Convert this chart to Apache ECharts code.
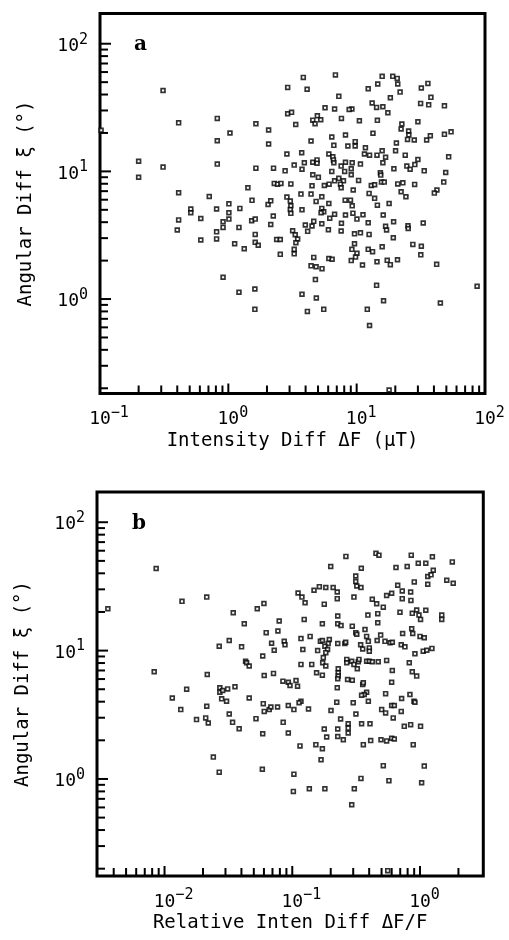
<!DOCTYPE html>
<html><head><meta charset="utf-8">
<script src="https://cdn.jsdelivr.net/npm/echarts@6/dist/echarts.min.js"></script>
<style>html,body{margin:0;padding:0;background:#fff}#c{width:509px;height:940px}</style>
</head><body><div id="c"></div>
<script>
// Panel a: intensity difference ΔF (μT) vs angular difference ξ (°)
const intensityDiffA = [0.31,0.41,0.82,1.03,0.82,1.64,2.06,2.9,2.9,3.11,3.35,2.06,3.84,6.83,4.11,7.26,15.8,19.1,20.7,20.9,14.6,12.3,21.8,18.3,31.9,35.9,37.9,13.2,14.3,16.0,17.5,31.5,36.4,48.3,5.67,6.73,9.18,8.74,4.94,4.55,5.25,4.74,7.61,10.5,14.5,22.5,22.2,30.0,25.4,25.5,13.4,8.18,6.4,4.41,9.74,24.9,28.1,20.4,35.1,37.5,48.3,54.4,6.64,8.54,9.74,11.7,15.8,3.73,6.07,6.52,11.5,12.6,14.4,16.8,20.1,23.9,52.1,30.0,3.26,3.91,4.55,4.91,4.91,6.59,6.64,7.57,8.18,9.23,10.7,16.0,24.6,26.1,28.4,19.5,3.75,6.4,8.06,9.07,9.07,15.3,15.4,33.6,49.4,4.55,5.03,6.73,7.26,7.89,7.48,6.1,5.6,10.35,13.0,13.8,15.6,16.4,20.9,22.9,28.3,47.7,4.49,7.57,9.4,22.2,24.2,42.2,40.3,3.68,4.41,12.5,13.8,5.35,4.83,6.07,8.14,8.95,9.23,14.5,17.9,3.75,5.35,5.54,5.28,6.73,6.17,8.18,9.35,11.2,10.05,16.1,12.3,19.4,33.0,3.98,4.49,4.63,5.35,7.61,4.15,6.02,7.57,16.8,17.1,25.1,25.2,9.62,10.7,12.5,19.3,3.17,3.32,3.47,3.36,9.62,15.8,27.4,31.9,9.18,10.05,9.8,9.07,12.3,13.3,3.26,3.26,31.6,4.63,6.07,6.44,14.4,17.3,18.3,20.8,11.1,4.41,4.83,5.37,42.0,4.77,3.75,4.85,4.13,5.54,14.3,16.2,12.1,12.6,44.9,86.8,17.9,0.91,1.21,1.61,1.61,2.86,0.2,0.31,0.2,0.82,1.64,2.25,2.77,1.42,2.28,2.42,2.57,3.07,0.41,0.71,1.01,1.53,2.04,2.14,2.86,3.04,3.07,3.04,3.07,0.51,0.51,0.81,1.01,1.23,0.41,0.61,1.01,0.91,0.91,1.52,1.62,2.24,2.14,0.40,0.81,1.21,0.81,0.61,1.62,2.38,2.54,1.12,1.33,1.62,1.71,2.54,0.102];
const angularDiffA = [43,24,26,20,17.4,23.6,21.1,45.5,28.3,29,23.3,16.4,54.5,57,44,38.7,55.5,55.5,53.5,48.3,48.3,44.4,41.8,37.7,45,48.9,38,34.3,31.7,32.1,28.8,34.1,33.2,32.6,31.5,30.8,30.8,30.5,27.3,25.2,25.4,23.6,26,24.9,25.1,23.5,21.5,24.5,20.7,19.3,19.9,19.3,18.6,17.3,17.1,17.8,17.6,16.7,17.6,19,19.5,20.4,16,15.8,15.8,15.3,14.5,14,13.7,13,13.7,13.4,13.4,12.9,14.5,13.4,13,12.4,11.2,11.7,11.8,12.3,11.6,12.3,11.7,11,11.8,11.7,11.4,11.7,11,10.4,11.3,10.5,10.4,10,10,10.5,9.4,9.74,9.35,10.1,9.8,9.4,8.98,8.43,8.82,8.43,7.94,7.94,7.76,8.5,7.76,7.85,8.24,8.24,7.98,8.13,7.91,8.24,7.71,7.44,7.14,6.92,6.33,7.14,6.76,6.64,6.64,6.72,6.15,6.33,5.82,5.61,5.95,5.95,5.37,5.44,5.61,5.0,5.13,4.83,4.74,4.62,4.29,4.55,4.71,4.57,4.23,4.55,3.96,4.03,3.94,3.8,3.73,4.06,3.89,3.92,3.39,3.49,3.41,3.71,3.47,3.75,3.57,3.24,3.3,3.21,3.02,3.43,3.19,2.95,2.76,2.71,2.57,2.68,2.59,2.45,2.28,2.13,2.0,2.45,2.35,2.45,2.26,2.22,2.12,2.08,2.05,1.96,2.01,1.86,2.03,1.85,1.82,1.79,1.73,1.87,1.42,1.09,1.02,0.80,0.83,1.28,0.97,0.83,0.62,0.93,1.26,0.194,1.48,1.13,1.2,0.83,13.7,12,10.8,9.0,11.4,10.6,10.6,10.1,7.44,8.05,7.94,8.05,7.98,6.8,6.36,5.57,5.93,5.51,5.88,6.29,5.85,5.37,5.02,4.69,5.07,4.74,5.07,4.74,5.13,4.17,4.28,4.23,4.03,3.64,4.1,4.23,4.47,3.84,3.47,3.36,3.64,2.96,2.9,3.21,2.93,2.93,2.71,2.48,2.78,2.64,2.24,21];

// Panel b: relative intensity difference ΔF/F vs angular difference ξ (°)
const relIntenDiffB = [0.0086,0.0137,0.0214,0.0036,0.0345,0.0421,0.0532,0.060,0.079,0.111,0.119,0.126,0.124,0.148,0.163,0.183,0.209,0.225,0.225,0.178,0.172,0.20,0.263,0.227,0.227,0.241,0.295,0.347,0.314,0.314,0.32,0.345,0.304,0.423,0.458,0.391,0.467,0.467,0.516,0.452,0.477,0.548,0.60,0.649,0.669,0.794,0.854,0.969,1.11,1.25,0.726,0.726,0.845,0.849,0.902,0.697,0.87,0.942,0.982,1.11,1.01,1.15,1.27,1.22,1.15,1.62,1.82,1.79,1.48,1.48,0.861,0.371,0.0625,0.0772,0.314,0.32,0.731,0.877,1.0,1.08,0.0268,0.0321,0.0401,0.0689,0.0722,0.0865,0.0877,0.117,0.138,0.166,0.172,0.195,0.191,0.18,0.189,0.183,0.158,0.227,0.258,0.262,0.343,0.356,0.401,0.401,0.382,0.394,0.462,0.492,0.532,0.583,0.607,0.713,0.762,0.913,1.06,1.13,1.24,0.121,0.0431,0.0439,0.046,0.0587,0.0603,0.0713,0.0845,0.0931,0.096,0.107,0.110,0.117,0.142,0.155,0.172,0.175,0.173,0.183,0.229,0.229,0.229,0.227,0.225,0.267,0.267,0.292,0.304,0.329,0.333,0.271,0.295,0.323,0.356,0.36,0.382,0.401,0.423,0.471,0.548,0.607,0.60,0.824,0.87,0.942,0.382,0.366,0.349,0.538,0.718,0.834,0.897,0.913,0.30,0.394,0.501,0.538,0.60,0.629,0.617,0.713,0.753,0.845,1.01,0.885,0.495,0.548,0.60,0.629,1.08,0.516,0.349,0.406,0.36,0.411,0.315,0.274,0.274,0.274,0.251,0.239,0.227,0.227,0.201,0.223,0.178,0.186,0.153,0.172,0.168,0.134,0.117,0.113,0.103,0.0931,0.0849,0.0931,0.115,0.103,0.0767,0.066,0.068,0.0603,0.0593,0.052,0.0587,0.0583,0.046,0.0356,0.028,0.0306,0.0271,0.0271,0.0285,0.0312,0.0321,0.0341,0.0384,0.0214,0.021,0.022,0.0178,0.0216,0.0149,0.0115,0.0134,0.0083,0.0241,0.0268,0.102,0.136,0.18,0.345,0.306,0.292,0.571,1.03,0.559];
const angularDiffB = [43.6,24.2,26.1,21.2,19.7,16.2,21.2,23.3,17.0,28.1,26.1,23.6,17.5,29.5,31.5,31,31,28.6,25.4,23,16.2,45.2,54.2,18.6,16.2,15.7,15.5,43.8,38.1,34.5,31.9,31,26.1,25.1,23.2,18.9,19.4,16.5,21.8,57.2,55.4,26.9,28,44.4,32.3,45.2,55.4,47.9,47.9,53.8,29.1,25.4,28.6,24.6,34.3,19.9,19.5,20.7,18.9,20.6,17.5,37.8,42.3,38.9,32.9,35.3,33.5,49.1,18.9,17.5,14.8,14.6,13.8,14.2,13.8,13.4,13.6,13.6,12.9,12.6,10.8,12,10.7,11.4,10.05,11.8,11.1,12.4,12.9,11.8,12,12.2,11.35,10.8,10.2,9.64,10,11.35,11.35,11.6,11.1,10.3,10.5,9.9,12.9,11.8,12,13.2,11.8,11.5,11.6,11.1,10.7,9.45,9.9,10.05,10.4,10.2,8.27,8.05,7.58,9.07,6.4,6.64,5.78,5.67,5.35,5.85,5.28,7.81,7.81,6.72,6.44,8.82,8.05,7.58,7.22,6.72,6.33,6.03,5.13,8.54,8.05,8.27,7.81,8.19,8.54,5.95,5.88,7.22,5.44,5.61,8.27,8.27,8.19,8.19,8.39,7.0,5.67,8.05,6.85,6.33,4.74,4.55,4.49,4.62,4.23,4.55,4.03,3.96,3.92,4.03,3.47,3.27,3.73,3.73,2.99,3.36,2.57,2.65,2.57,1.85,2.02,1.98,2.08,2.05,1.26,1.27,2.69,2.69,1.85,1.99,3.21,2.69,2.49,2.28,2.02,2.93,2.45,2.14,3.41,3.96,2.45,2.12,1.85,1.72,1.41,3.51,4.03,3.92,3.47,3.73,2.76,2.28,1.81,1.09,3.64,3.47,3.64,3.36,3.86,2.95,2.25,1.19,4.27,5.23,4.21,4.03,5.13,4.74,4.89,5.03,3.21,2.76,2.46,3.69,2.99,2.73,2.9,6.52,5.0,4.27,3.47,6.85,1.48,1.13,0.80,0.84,0.84,1.01,0.84,0.63,0.97,0.935,0.193];

// Axis extents and tick decades
const xRangeA = [0.1, 100];
const yRangeA = [0.182, 172.5];
const xRangeB = [0.00296, 3.13];
const yRangeB = [0.1754, 172];
const decadesXA = [0.1, 1, 10, 100];
const decadesXB = [0.001, 0.01, 0.1, 1];
const decadesY = [0.1, 1, 10, 100];
const minorSteps = [2, 3, 4, 5, 6, 7, 8, 9];

const FONT = 'DejaVu Sans Mono';
const zip = (xs, ys) => xs.map((x, i) => [x, ys[i]]);

function expOf(v) {
  const l = Math.log10(v), e = Math.round(l);
  return Math.abs(l - e) < 1e-6 ? e : null;
}
function supText(e) { return e < 0 ? '\u2212' + (-e) : String(e); }
function xLabel(v) {
  const e = expOf(v); if (e === null) return '';
  const s = supText(e);
  return '{p|' + s + '}{b|10}{s|' + s + '}';
}
function yLabel(v) {
  const e = expOf(v); if (e === null) return '';
  return '{b|10}{s|' + supText(e) + '}';
}
const rich = {
  p: { fontFamily: FONT, fontSize: 15, color: 'rgba(0,0,0,0)', padding: [0, 0, 8, 0], verticalAlign: 'bottom' },
  b: { fontFamily: FONT, fontSize: 18, color: '#000', verticalAlign: 'bottom' },
  s: { fontFamily: FONT, fontSize: 15, color: '#000', padding: [0, 0, 8, 0], verticalAlign: 'bottom' }
};
function xAxisCfg(grid, range, name) {
  return {
    type: 'log', logBase: 10, gridIndex: grid, min: range[0], max: range[1],
    axisLine: { show: false }, axisTick: { show: false }, splitLine: { show: false },
    axisLabel: { formatter: xLabel, rich: rich, margin: 12 },
    name: name, nameLocation: 'middle', nameGap: 38,
    nameTextStyle: { fontFamily: FONT, fontSize: 19, color: '#000' }
  };
}
function yAxisCfg(grid, range) {
  return {
    type: 'log', logBase: 10, gridIndex: grid, min: range[0], max: range[1],
    axisLine: { show: false }, axisTick: { show: false }, splitLine: { show: false },
    axisLabel: { formatter: yLabel, rich: rich, margin: 12 },
    name: 'Angular Diff \u03be (\u00b0)', nameLocation: 'middle', nameGap: 64,
    nameTextStyle: { fontFamily: FONT, fontSize: 19, color: '#000' }
  };
}
const pointStyle = { color: '#fff', borderColor: '#000', borderWidth: 1.7 };

const chart = echarts.init(document.getElementById('c'), null, { renderer: 'canvas' });
chart.setOption({
  animation: false,
  backgroundColor: '#fff',
  grid: [
    { left: 100, top: 13.5, width: 385, height: 380, show: true, borderColor: '#000', borderWidth: 3, backgroundColor: 'transparent' },
    { left: 97, top: 492, width: 386.3, height: 384, show: true, borderColor: '#000', borderWidth: 3, backgroundColor: 'transparent' }
  ],
  xAxis: [xAxisCfg(0, xRangeA, 'Intensity Diff \u0394F (\u03bcT)'), xAxisCfg(1, xRangeB, 'Relative Inten Diff \u0394F/F')],
  yAxis: [yAxisCfg(0, yRangeA), yAxisCfg(1, yRangeB)],
  series: [
    { type: 'scatter', xAxisIndex: 0, yAxisIndex: 0, symbol: 'rect', symbolSize: 3.8, itemStyle: pointStyle, data: zip(intensityDiffA, angularDiffA) },
    { type: 'scatter', xAxisIndex: 1, yAxisIndex: 1, symbol: 'rect', symbolSize: 3.8, itemStyle: pointStyle, data: zip(relIntenDiffB, angularDiffB) }
  ]
});

// Inward major/minor ticks on left and bottom axes
function tickValues(decades, range) {
  const out = [];
  decades.forEach(d => {
    out.push({ v: d, major: true });
    minorSteps.forEach(m => out.push({ v: d * m, major: false }));
  });
  return out.filter(t => t.v >= range[0] && t.v <= range[1]);
}
const graphics = [];
function addTicks(g, xr, yr, xDec) {
  const left = chart.convertToPixel({ xAxisIndex: g }, xr[0]);
  const right = chart.convertToPixel({ xAxisIndex: g }, xr[1]);
  const bottom = chart.convertToPixel({ yAxisIndex: g }, yr[0]);
  const top = chart.convertToPixel({ yAxisIndex: g }, yr[1]);
  tickValues(xDec, xr).forEach(t => {
    const x = chart.convertToPixel({ xAxisIndex: g }, t.v);
    if (x - left < 2.5 || right - x < 2.5) return;
    const len = t.major ? 10 : 8;
    graphics.push({ type: 'line', shape: { x1: x, y1: bottom, x2: x, y2: bottom - len }, style: { stroke: '#000', lineWidth: 2 }, silent: true });
  });
  tickValues(decadesY, yr).forEach(t => {
    const y = chart.convertToPixel({ yAxisIndex: g }, t.v);
    if (bottom - y < 2.5 || y - top < 2.5) return;
    const len = t.major ? 11 : 8;
    graphics.push({ type: 'line', shape: { x1: left, y1: y, x2: left + len, y2: y }, style: { stroke: '#000', lineWidth: 2 }, silent: true });
  });
}
addTicks(0, xRangeA, yRangeA, decadesXA);
addTicks(1, xRangeB, yRangeB, decadesXB);
graphics.push({ type: 'text', left: 134, top: 35, style: { text: 'a', font: 'bold 20px "DejaVu Serif"', fill: '#000' }, silent: true });
graphics.push({ type: 'text', left: 132, top: 514, style: { text: 'b', font: 'bold 20px "DejaVu Serif"', fill: '#000' }, silent: true });
chart.setOption({ graphic: graphics });
</script>
</body></html>
